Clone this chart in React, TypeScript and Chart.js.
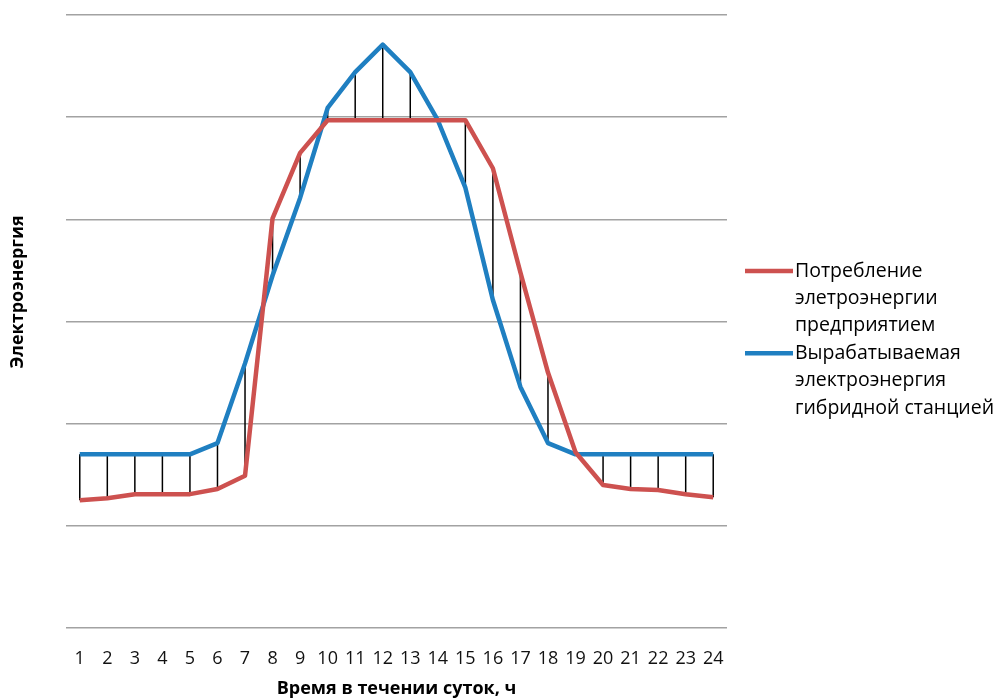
import React, { useEffect, useRef } from "react";
import { Chart, registerables } from "chart.js";

Chart.register(...registerables);

const hours = ["1","2","3","4","5","6","7","8","9","10","11","12","13","14","15","16","17","18","19","20","21","22","23","24"];
const consumption = [1.25,1.27,1.31,1.31,1.31,1.36,1.49,4.01,4.65,4.97,4.97,4.97,4.97,4.97,4.97,4.50,3.48,2.50,1.72,1.40,1.36,1.35,1.31,1.28];
const generation = [1.70,1.70,1.70,1.70,1.70,1.81,2.59,3.45,4.21,5.09,5.44,5.71,5.44,4.97,4.31,3.21,2.36,1.81,1.70,1.70,1.70,1.70,1.70,1.70];
const seriesNames = [
  ["Потребление", "элетроэнергии", "предприятием"],
  ["Вырабатываемая", "электроэнергия", "гибридной станцией"],
];
const yTitle = "Электроэнергия";
const xTitle = "Время в течении суток, ч";
const RED = "#cd514f";
const BLUE = "#1f7fc1";
const FONT = "'Open Sans', 'Noto Sans', sans-serif";

const dropLines = {
  id: "dropLines",
  beforeDatasetsDraw(chart: any) {
    const a = chart.getDatasetMeta(0).data;
    const b = chart.getDatasetMeta(1).data;
    const ctx = chart.ctx;
    ctx.save();
    ctx.strokeStyle = "#000";
    ctx.lineWidth = 1.5;
    for (let i = 0; i < a.length; i++) {
      ctx.beginPath();
      ctx.moveTo(a[i].x, a[i].y);
      ctx.lineTo(b[i].x, b[i].y);
      ctx.stroke();
    }
    ctx.restore();
  },
};

const extras = {
  id: "extras",
  afterDraw(chart: any) {
    const ctx = chart.ctx;
    ctx.save();
    ctx.fillStyle = "#000";
    ctx.font = `bold 18px ${FONT}`;
    ctx.textAlign = "center";
    ctx.textBaseline = "middle";
    ctx.translate(18, 292);
    ctx.rotate(-Math.PI / 2);
    ctx.fillText(yTitle, 0, 0);
    ctx.restore();
    ctx.save();
    const lineH = 27.4;
    let y = 271;
    chart.data.datasets.forEach((ds: any, i: number) => {
      ctx.strokeStyle = ds.borderColor;
      ctx.lineWidth = 4.5;
      ctx.beginPath();
      ctx.moveTo(745, y);
      ctx.lineTo(793, y);
      ctx.stroke();
      ctx.fillStyle = "#000";
      ctx.font = `19.5px ${FONT}`;
      ctx.textAlign = "left";
      ctx.textBaseline = "middle";
      seriesNames[i].forEach((t) => {
        ctx.fillText(t, 795, y);
        y += lineH;
      });
    });
    ctx.restore();
  },
};

export default function App() {
  const ref = useRef<HTMLCanvasElement>(null);
  useEffect(() => {
    const chart = new Chart(ref.current!, {
      type: "line",
      data: {
        labels: hours,
        datasets: [
          { label: "Потребление элетроэнергии предприятием", data: consumption, borderColor: RED, backgroundColor: RED, borderWidth: 4.5, pointRadius: 0, tension: 0, borderJoinStyle: "round" },
          { label: "Вырабатываемая электроэнергия гибридной станцией", data: generation, borderColor: BLUE, backgroundColor: BLUE, borderWidth: 4.5, pointRadius: 0, tension: 0, borderJoinStyle: "round" },
        ],
      },
      options: {
        responsive: false,
        animation: false,
        layout: { padding: { top: 15, right: 270, bottom: 0, left: 0 } },
        plugins: { legend: { display: false }, tooltip: { enabled: false } },
        scales: {
          x: {
            offset: true,
            grid: { display: false, drawTicks: false },
            border: { display: false },
            ticks: { color: "#111", font: { family: FONT, size: 18 }, padding: 20, maxRotation: 0, autoSkip: false },
            title: { display: true, text: xTitle, color: "#000", font: { family: FONT, size: 18, weight: "bold" }, padding: { top: 0, bottom: 0 } },
            afterFit(s: any) { s.height = 72; },
          },
          y: {
            min: 0,
            max: 6,
            ticks: { display: false, stepSize: 1 },
            grid: { color: "#a2a2a2", lineWidth: 1.5, drawTicks: false },
            border: { display: false },
            afterFit(s: any) { s.width = 66; },
          },
        },
      },
      plugins: [dropLines, extras],
    });
    return () => chart.destroy();
  }, []);
  return (
    <div style={{ position: "absolute", left: 0, top: 0, width: 997, height: 700, background: "#fff" }}>
      <canvas ref={ref} width={997} height={700} />
    </div>
  );
}
